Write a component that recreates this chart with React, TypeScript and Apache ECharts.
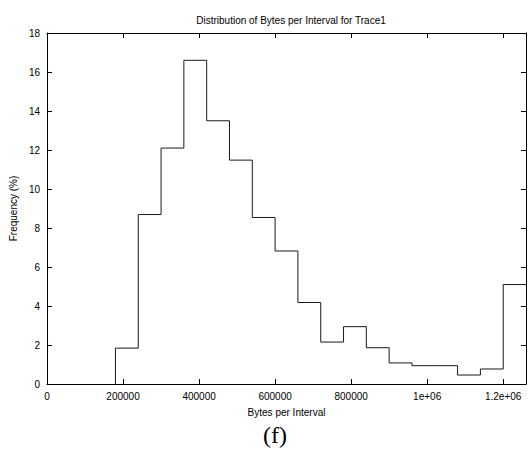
import React, { useEffect, useRef } from "react";
import * as echarts from "echarts";

const binStarts = [
  180000, 240000, 300000, 360000, 420000, 480000, 540000, 600000, 660000,
  720000, 780000, 840000, 900000, 960000, 1020000, 1080000, 1140000, 1200000,
];
const frequencies = [
  1.84, 8.69, 12.1, 16.6, 13.5, 11.48, 8.54, 6.82, 4.18, 2.15, 2.94, 1.86, 1.08,
  0.94, 0.94, 0.46, 0.77, 5.1,
];
const binWidth = 60000;
const xTicks = [0, 200000, 400000, 600000, 800000, 1000000, 1200000];
const xTickLabels = ["0", "200000", "400000", "600000", "800000", "1e+06", "1.2e+06"];
const yTicks = [0, 2, 4, 6, 8, 10, 12, 14, 16, 18];

const FONT = "'Liberation Sans', Arial, Helvetica, sans-serif";

export default function App() {
  const ref = useRef<HTMLDivElement>(null);
  useEffect(() => {
    if (!ref.current) return;
    const chart = echarts.init(ref.current, null, { renderer: "svg" });
    const last = binStarts.length - 1;
    const stepData: number[][] = [[binStarts[0], 0]];
    binStarts.forEach((s, i) => stepData.push([s, frequencies[i]]));
    stepData.push([binStarts[last] + binWidth, frequencies[last]]);

    const xMax = binStarts[last] + binWidth;
    const labelFor = (v: number) => {
      const i = xTicks.indexOf(v);
      return i >= 0 ? xTickLabels[i] : "";
    };
    const axisCommon = {
      axisLine: { show: true, onZero: false, lineStyle: { color: "#000", width: 1 } },
      axisTick: { show: true, inside: true, length: 5, lineStyle: { color: "#000", width: 1 } },
      splitLine: { show: false },
    };

    chart.setOption({
      animation: false,
      backgroundColor: "#fff",
      title: {
        text: "Distribution of Bytes per Interval for Trace1",
        left: 286,
        textAlign: "center",
        top: 10,
        textStyle: { fontFamily: FONT, fontSize: 10, fontWeight: "normal", color: "#000" },
      },
      grid: { left: 47, right: 6, top: 33, bottom: 66 },
      xAxis: [
        {
          type: "value",
          min: 0,
          max: xMax,
          interval: 200000,
          position: "bottom",
          name: "Bytes per Interval",
          nameLocation: "middle",
          nameGap: 23,
          nameTextStyle: { fontFamily: FONT, fontSize: 10, color: "#000" },
          ...axisCommon,
          axisLabel: {
            show: true,
            margin: 7,
            fontFamily: FONT,
            fontSize: 10,
            color: "#000",
            showMaxLabel: false,
            formatter: (v: number) => labelFor(v),
          },
        },
        {
          type: "value",
          min: 0,
          max: xMax,
          interval: 200000,
          position: "top",
          ...axisCommon,
          axisLabel: { show: false },
        },
      ],
      yAxis: [
        {
          type: "value",
          min: yTicks[0],
          max: yTicks[yTicks.length - 1],
          interval: 2,
          position: "left",
          name: "Frequency (%)",
          nameLocation: "middle",
          nameGap: 21,
          nameTextStyle: { fontFamily: FONT, fontSize: 10, color: "#000" },
          ...axisCommon,
          axisLabel: { show: true, margin: 7, fontFamily: FONT, fontSize: 10, color: "#000" },
        },
        {
          type: "value",
          min: yTicks[0],
          max: yTicks[yTicks.length - 1],
          interval: 2,
          position: "right",
          ...axisCommon,
          axisLabel: { show: false },
        },
      ],
      series: [
        {
          type: "line",
          step: "end",
          data: stepData,
          showSymbol: false,
          symbol: "none",
          lineStyle: { color: "#1a1a1a", width: 1 },
          clip: false,
        },
      ],
      graphic: [
        {
          type: "text",
          x: 275,
          y: 435,
          style: {
            text: "(f)",
            font: "24px 'Liberation Serif', 'Times New Roman', serif",
            fill: "#000",
            align: "center",
            verticalAlign: "middle",
          },
        },
      ],
    });
    return () => chart.dispose();
  }, []);
  return (
    <div
      ref={ref}
      style={{ position: "fixed", left: 0, top: 0, width: 532, height: 450, background: "#fff" }}
    />
  );
}
